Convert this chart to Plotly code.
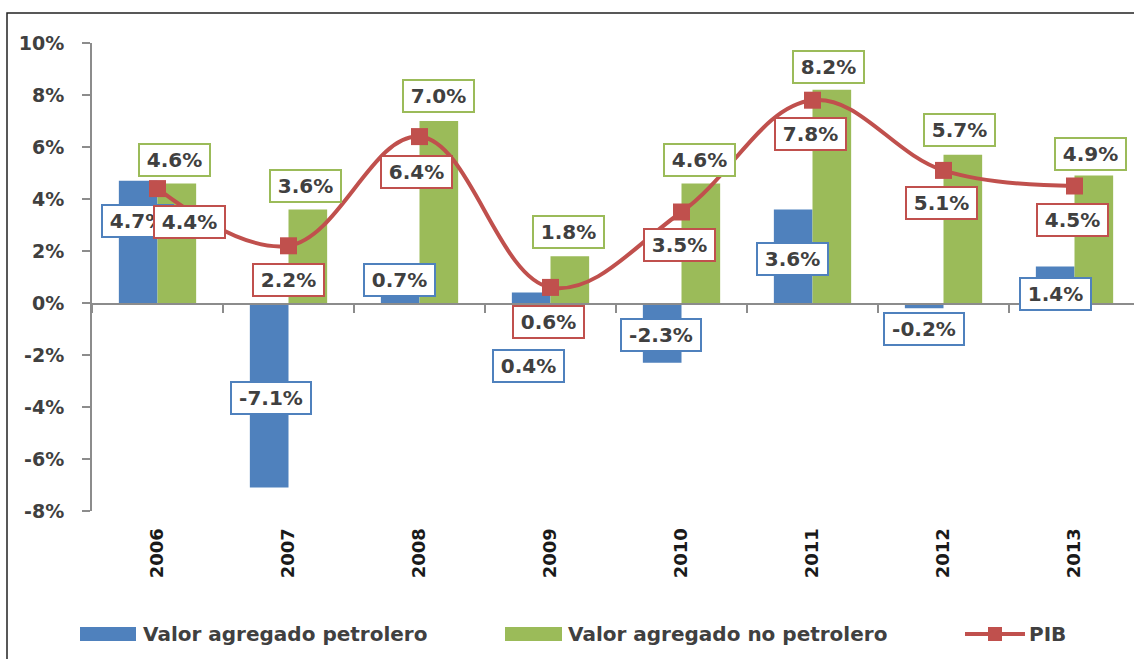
import plotly.graph_objects as go

# Tasas de crecimiento anual (%)
years = ["2006", "2007", "2008", "2009", "2010", "2011", "2012", "2013"]
petrolero = [4.7, -7.1, 0.7, 0.4, -2.3, 3.6, -0.2, 1.4]
no_petrolero = [4.6, 3.6, 7.0, 1.8, 4.6, 8.2, 5.7, 4.9]
pib = [4.4, 2.2, 6.4, 0.6, 3.5, 7.8, 5.1, 4.5]

y_tickvals = [-8, -6, -4, -2, 0, 2, 4, 6, 8, 10]
y_ticktext = ["-8%", "-6%", "-4%", "-2%", "0%", "2%", "4%", "6%", "8%", "10%"]

BLUE = "#4F81BD"
GREEN = "#9BBB59"
RED = "#C0504D"
TEXT = "#404040"
AXIS = "#8C8C8C"
FONT = "DejaVu Sans"
LABEL_SIZE = 20

# label placement: (dx, dy) pixel offsets of each value box from its anchor
off_pet = [(-20, -40), (-18, 90), (-20, 5), (-22, -73), (-21, 28), (-20, -50), (-20, -21), (-19, -27)]
off_nop = [(17, 23), (17, 23), (19, 25), (18, 24), (18, 23), (16, 23), (16, 25), (16, 22)]
off_pib = [(32, -33), (0, -34), (-3, -35), (-2, -35), (-2, -33), (-2, -34), (-2, -33), (-2, -34)]

# plot-area geometry in pixels
W, H = 1134, 659
L, R, T, B = 92, 1134, 43, 511
CAT_W = 131  # pixels per category
Y_MIN, Y_MAX = -8, 10


def px(x):
    return (x - L) / (R - L)


def py(y):
    return (B - y) / (B - T)


zero_frac = (0 - Y_MIN) / (Y_MAX - Y_MIN)
x_range = [-0.5, -0.5 + (R - L) / CAT_W]

# approximate advance widths (em) of DejaVu Sans Bold, used to size the value boxes
_adv = {".": 0.38, "%": 1.002, "-": 0.415}


def text_width(s, size):
    return sum(_adv.get(ch, 0.696) for ch in s) * size


fig = go.Figure()
fig.add_trace(go.Bar(x=years, y=petrolero, name="Valor agregado petrolero",
                     marker=dict(color=BLUE, line=dict(width=0)), hoverinfo="x+y"))
fig.add_trace(go.Bar(x=years, y=no_petrolero, name="Valor agregado no petrolero",
                     marker=dict(color=GREEN, line=dict(width=0)), hoverinfo="x+y"))
fig.add_trace(go.Scatter(x=years, y=pib, name="PIB", mode="lines+markers",
                         line=dict(color=RED, width=4, shape="spline", smoothing=1.1),
                         marker=dict(symbol="square", size=17, color=RED)))
# carrier for the category axis drawn along the 0% line
fig.add_trace(go.Scatter(x=years, y=[0] * len(years), xaxis="x2", yaxis="y2",
                         mode="markers", marker=dict(opacity=0), hoverinfo="skip",
                         showlegend=False))

annotations = []


def box(idx, val, dx, dy, color):
    # on a category axis annotations are positioned by category index
    label = f"{val:.1f}%"
    annotations.append(dict(
        x=idx, y=val, xref="x", yref="y", text=label, showarrow=False,
        xshift=dx, yshift=dy, width=round(text_width(label, LABEL_SIZE) + 8),
        bgcolor="white", bordercolor=color, borderwidth=2, borderpad=3,
        font=dict(family=FONT, size=LABEL_SIZE, color=TEXT, weight="bold"),
    ))


for i in range(len(years)):
    box(i, petrolero[i], off_pet[i][0], off_pet[i][1], BLUE)
for i in range(len(years)):
    box(i, no_petrolero[i], off_nop[i][0], off_nop[i][1], GREEN)
for i in range(len(years)):
    box(i, pib[i], off_pib[i][0], off_pib[i][1], RED)

# legend drawn below the chart
shapes = []
leg_y = 634
legend_items = [
    ("rect", 80, 136, 141, "Valor agregado petrolero", BLUE),
    ("rect", 505, 562, 566, "Valor agregado no petrolero", GREEN),
    ("line", 965, 1025, 1027, "PIB", RED),
]
for kind, x0, x1, tx, label, color in legend_items:
    if kind == "rect":
        shapes.append(dict(type="rect", xref="paper", yref="paper",
                           x0=px(x0), x1=px(x1), y0=py(leg_y + 7), y1=py(leg_y - 7),
                           fillcolor=color, line=dict(width=0)))
    else:
        shapes.append(dict(type="line", xref="paper", yref="paper",
                           x0=px(x0), x1=px(x1), y0=py(leg_y), y1=py(leg_y),
                           line=dict(color=color, width=4)))
        mid = (x0 + x1) / 2
        shapes.append(dict(type="rect", xref="paper", yref="paper",
                           x0=px(mid - 7), x1=px(mid + 7), y0=py(leg_y + 7), y1=py(leg_y - 7),
                           fillcolor=color, line=dict(width=0)))
    annotations.append(dict(x=px(tx), y=py(leg_y), xref="paper", yref="paper",
                            xanchor="left", yanchor="middle", text=label, showarrow=False,
                            font=dict(family=FONT, size=20, color=TEXT, weight="bold")))

# outer frame
shapes.append(dict(type="rect", xref="paper", yref="paper", layer="below",
                   x0=px(7), x1=px(W + 20), y0=py(H + 20), y1=py(13),
                   line=dict(color="#222222", width=1.5), fillcolor="rgba(0,0,0,0)"))

fig.update_layout(
    width=W, height=H,
    margin=dict(l=L, r=W - R, t=T, b=H - B),
    paper_bgcolor="white", plot_bgcolor="rgba(0,0,0,0)",
    barmode="group", bargap=0.41, bargroupgap=0,
    showlegend=False,
    annotations=annotations, shapes=shapes,
    font=dict(family=FONT, color=TEXT),
    xaxis=dict(
        type="category", categoryorder="array", categoryarray=years, range=x_range,
        showline=False, ticks="outside", ticklen=9, tickcolor="rgba(0,0,0,0)",
        tickangle=-90,
        tickfont=dict(family=FONT, size=18, color="#1A1A1A", weight="bold"),
        showgrid=False, zeroline=False,
    ),
    yaxis=dict(
        range=[Y_MIN, Y_MAX], tickvals=y_tickvals, ticktext=y_ticktext,
        showline=True, linecolor=AXIS, linewidth=2,
        ticks="outside", ticklen=8, tickcolor=AXIS, tickwidth=2,
        ticklabelstandoff=14,
        tickfont=dict(family=FONT, size=19, color=TEXT, weight="bold"),
        showgrid=False, zeroline=False,
    ),
    xaxis2=dict(
        type="category", categoryorder="array", categoryarray=years,
        anchor="y2", domain=[0, 1], matches="x",
        showline=True, linecolor=AXIS, linewidth=2,
        ticks="outside", tickson="boundaries", ticklen=8, tickcolor=AXIS, tickwidth=2,
        showticklabels=False, showgrid=False, zeroline=False,
    ),
    yaxis2=dict(domain=[zero_frac, 1], visible=False, range=[0, 1], fixedrange=True),
)

fig.write_html("out.html")
